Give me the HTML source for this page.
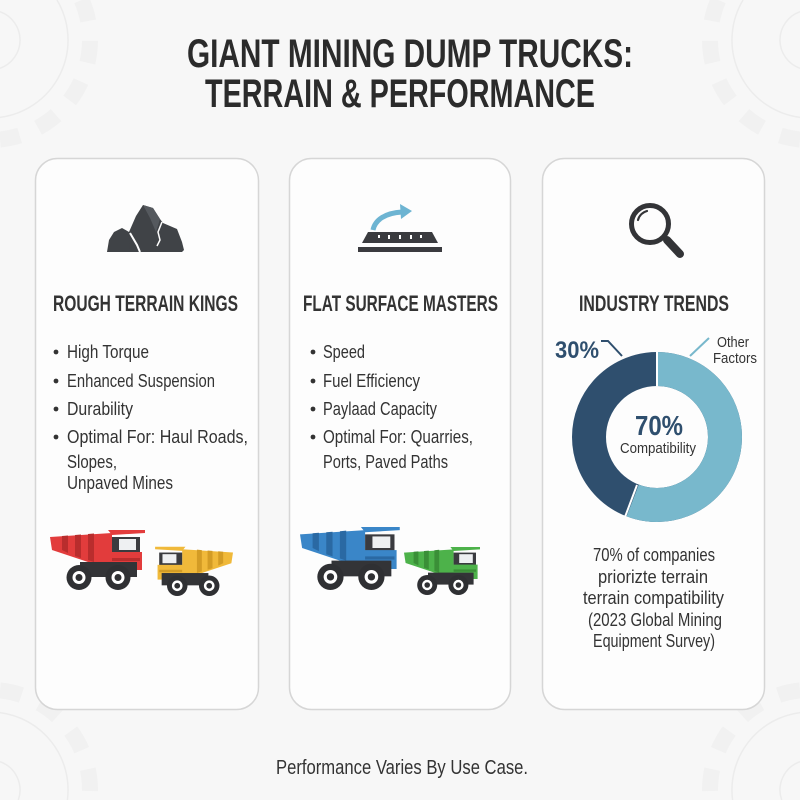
<!DOCTYPE html>
<html>
<head>
<meta charset="utf-8">
<style>
html,body{margin:0;padding:0;background:#f7f7f7;width:800px;height:800px;overflow:hidden;}
svg{display:block;}
text{font-family:"Liberation Sans",sans-serif;}
</style>
</head>
<body>
<svg width="800" height="800" viewBox="0 0 800 800" xmlns="http://www.w3.org/2000/svg">
<defs>
  <g id="truck">
    <polygon points="0,-53 62,-57 62,-25 47,-25 2,-40" fill="var(--c)"/>
    <polygon points="12,-54 18,-54.5 18,-37 12,-40" fill="var(--d)"/>
    <polygon points="25,-55 31,-55.5 31,-32 25,-34" fill="var(--d)"/>
    <polygon points="38,-56 44,-56.5 44,-28 38,-30" fill="var(--d)"/>
    <polygon points="58,-60 95,-60 95,-57 62,-55" fill="var(--c)"/>
    <rect x="62" y="-53" width="28" height="18" fill="#3a3b3f"/>
    <rect x="69" y="-51" width="17" height="11" fill="#eef0f2"/>
    <rect x="58" y="-38" width="34" height="18" fill="var(--c)"/>
    <rect x="62" y="-32" width="28" height="3" fill="var(--d)"/>
    <rect x="30" y="-28" width="57" height="15" fill="#333437"/>
    <g fill="#2f3033">
      <circle cx="29" cy="-12.5" r="12.5"/>
      <circle cx="68" cy="-12.5" r="12.5"/>
    </g>
    <g fill="#fff">
      <circle cx="29" cy="-12.5" r="6.5"/>
      <circle cx="68" cy="-12.5" r="6.5"/>
    </g>
    <g fill="#2f3033">
      <circle cx="29" cy="-12.5" r="3.5"/>
      <circle cx="68" cy="-12.5" r="3.5"/>
    </g>
  </g>
</defs>

<rect width="800" height="800" fill="#f7f7f7"/>

<!-- background gears (arcs kept inside frame) -->
<g fill="none" stroke="#ececec" stroke-width="1.5">
  <path d="M56.96,0 A78 78 0 0 1 0,117.4"/>
  <path d="M0,11.7 A30 30 0 0 1 0,68.3"/>
  <path d="M743.04,0 A78 78 0 0 0 800,117.4"/>
  <path d="M800,11.7 A30 30 0 0 0 800,68.3"/>
  <path d="M0,712.6 A78 78 0 0 1 67.4,800"/>
  <path d="M0,761.7 A30 30 0 0 1 18.28,800"/>
  <path d="M800,712.6 A78 78 0 0 0 732.6,800"/>
  <path d="M800,761.7 A30 30 0 0 0 781.72,800"/>
</g>
<g fill="none" stroke="#f1f1f1" stroke-width="16" stroke-dasharray="22 20">
  <path d="M81.65,0 A100 100 0 0 1 0,139.5"/>
  <path d="M718.35,0 A100 100 0 0 0 800,139.5"/>
  <path d="M0,690.5 A100 100 0 0 1 89.5,800"/>
  <path d="M800,690.5 A100 100 0 0 0 710.5,800"/>
</g>

<!-- title -->
<text x="187" y="67" font-size="40" font-weight="bold" fill="#2b2b2b" textLength="446" lengthAdjust="spacingAndGlyphs">GIANT MINING DUMP TRUCKS:</text>
<text x="205" y="107" font-size="40" font-weight="bold" fill="#2b2b2b" textLength="390" lengthAdjust="spacingAndGlyphs">TERRAIN &amp; PERFORMANCE</text>

<!-- cards -->
<rect x="35.5" y="158.5" width="223" height="551" rx="22" fill="#fdfdfd" stroke="#d6d6d6" stroke-width="1.5"/>
<rect x="289.5" y="158.5" width="221" height="551" rx="22" fill="#fdfdfd" stroke="#d6d6d6" stroke-width="1.5"/>
<rect x="542.5" y="158.5" width="222" height="551" rx="22" fill="#fdfdfd" stroke="#d6d6d6" stroke-width="1.5"/>

<!-- Rocks icon -->
<g fill="#404347">
  <polygon points="107,252 109,240 114,232 122,228 129,232 137,244 140,252"/>
  <polygon points="130,252 129,232 136,216 143,205 153,208 160,219 163,223 177,229 182,242 184,250 182,252"/>
</g>
<polygon points="143,205 153,208 160,219 156,232 150,218" fill="#55595e"/>
<path d="M130,233 L137,245 L140,252" stroke="#fdfdfd" stroke-width="2" fill="none"/>
<path d="M162,222 L158,232 L160,240 L157,246" stroke="#fdfdfd" stroke-width="1.5" fill="none"/>

<!-- card 1 text -->
<text x="53" y="311" font-size="22" font-weight="bold" fill="#333" textLength="185" lengthAdjust="spacingAndGlyphs">ROUGH TERRAIN KINGS</text>
<g font-size="18" fill="#333">
  <circle cx="56" cy="352" r="2.4"/>
  <text x="67" y="358" textLength="82" lengthAdjust="spacingAndGlyphs">High Torque</text>
  <circle cx="56" cy="381" r="2.4"/>
  <text x="67" y="387" textLength="148" lengthAdjust="spacingAndGlyphs">Enhanced Suspension</text>
  <circle cx="56" cy="409" r="2.4"/>
  <text x="67" y="415" textLength="66" lengthAdjust="spacingAndGlyphs">Durability</text>
  <circle cx="56" cy="437" r="2.4"/>
  <text x="67" y="443" textLength="181" lengthAdjust="spacingAndGlyphs">Optimal For: Haul Roads,</text>
  <text x="67" y="468" textLength="50" lengthAdjust="spacingAndGlyphs">Slopes,</text>
  <text x="67" y="489" textLength="106" lengthAdjust="spacingAndGlyphs">Unpaved Mines</text>
</g>

<!-- trucks card 1 -->
<use href="#truck" transform="translate(50,590)" style="--c:#e23c3c;--d:#b92d2d"/>
<use href="#truck" transform="translate(233,596) scale(-0.82,0.82)" style="--c:#f0b93a;--d:#d39c25"/>

<!-- Road icon -->
<path d="M373,230 C375,220 385,213 402,212" stroke="#6db4d2" stroke-width="5" fill="none"/>
<polygon points="400,204 412,211 401,219" fill="#6db4d2"/>
<polygon points="368,232 432,232 438,243 362,243" fill="#3a3b3f"/>
<rect x="358" y="247" width="84" height="5" fill="#3a3b3f"/>
<g fill="#fff">
  <rect x="378" y="235" width="2" height="3"/>
  <rect x="388" y="235" width="2" height="4"/>
  <rect x="399" y="235" width="2" height="4"/>
  <rect x="410" y="235" width="2" height="4"/>
  <rect x="420" y="235" width="2" height="3"/>
</g>

<!-- card 2 text -->
<text x="303" y="311" font-size="22" font-weight="bold" fill="#333" textLength="195" lengthAdjust="spacingAndGlyphs">FLAT SURFACE MASTERS</text>
<g font-size="18" fill="#333">
  <circle cx="313" cy="352" r="2.4"/>
  <text x="323" y="358" textLength="42" lengthAdjust="spacingAndGlyphs">Speed</text>
  <circle cx="313" cy="381" r="2.4"/>
  <text x="323" y="387" textLength="97" lengthAdjust="spacingAndGlyphs">Fuel Efficiency</text>
  <circle cx="313" cy="409" r="2.4"/>
  <text x="323" y="415" textLength="114" lengthAdjust="spacingAndGlyphs">Paylaad Capacity</text>
  <circle cx="313" cy="437" r="2.4"/>
  <text x="323" y="443" textLength="150" lengthAdjust="spacingAndGlyphs">Optimal For: Quarries,</text>
  <text x="323" y="468" textLength="125" lengthAdjust="spacingAndGlyphs">Ports, Paved Paths</text>
</g>

<!-- trucks card 2 -->
<use href="#truck" transform="translate(300,590) scale(1.05)" style="--c:#3a86c8;--d:#2a69a3"/>
<use href="#truck" transform="translate(404,595) scale(0.8)" style="--c:#4db24a;--d:#3a8f37"/>

<!-- Magnifier -->
<circle cx="650" cy="224" r="18.5" fill="none" stroke="#333437" stroke-width="5"/>
<path d="M638,220 A13,13 0 0 1 647,211" stroke="#333437" stroke-width="2.2" fill="none" stroke-linecap="round"/>
<line x1="667" y1="240" x2="680" y2="254" stroke="#333437" stroke-width="8" stroke-linecap="round"/>

<!-- card 3 -->
<text x="579" y="311" font-size="22" font-weight="bold" fill="#333" textLength="150" lengthAdjust="spacingAndGlyphs">INDUSTRY TRENDS</text>

<!-- donut -->
<g transform="translate(657,437) rotate(-90)">
  <circle r="68" fill="none" stroke="#2f4f6e" stroke-width="34"/>
  <circle r="68" fill="none" stroke="#78b8cc" stroke-width="34" stroke-dasharray="238.4 500"/>
</g>
<line x1="657" y1="352" x2="657" y2="386" stroke="#fff" stroke-width="2"/>
<line x1="625" y1="517" x2="637" y2="485" stroke="#fff" stroke-width="2"/>

<text x="555" y="358" font-size="24" font-weight="bold" fill="#2f4f6e" textLength="44" lengthAdjust="spacingAndGlyphs">30%</text>
<polyline points="601,341 608,341 622,356" fill="none" stroke="#2f4f6e" stroke-width="2"/>
<line x1="690" y1="356" x2="709" y2="338" stroke="#78b8cc" stroke-width="2"/>
<text x="717" y="347" font-size="15" fill="#333" textLength="32" lengthAdjust="spacingAndGlyphs">Other</text>
<text x="713" y="363" font-size="15" fill="#333" textLength="44" lengthAdjust="spacingAndGlyphs">Factors</text>

<text x="635" y="435" font-size="28" font-weight="bold" fill="#2f4f6e" textLength="48" lengthAdjust="spacingAndGlyphs">70%</text>
<text x="620" y="453" font-size="15" fill="#333" textLength="76" lengthAdjust="spacingAndGlyphs">Compatibility</text>

<g font-size="18" fill="#333">
  <text x="593" y="561" textLength="122" lengthAdjust="spacingAndGlyphs">70% of companies</text>
  <text x="598" y="583" textLength="110" lengthAdjust="spacingAndGlyphs">priorizte terrain</text>
  <text x="583" y="604" textLength="141" lengthAdjust="spacingAndGlyphs">terrain compatibility</text>
  <text x="588" y="626" textLength="134" lengthAdjust="spacingAndGlyphs">(2023 Global Mining</text>
  <text x="593" y="647" textLength="122" lengthAdjust="spacingAndGlyphs">Equipment Survey)</text>
</g>

<!-- footer -->
<text x="276" y="774" font-size="20" fill="#333" textLength="252" lengthAdjust="spacingAndGlyphs">Performance Varies By Use Case.</text>
</svg>
</body>
</html>
